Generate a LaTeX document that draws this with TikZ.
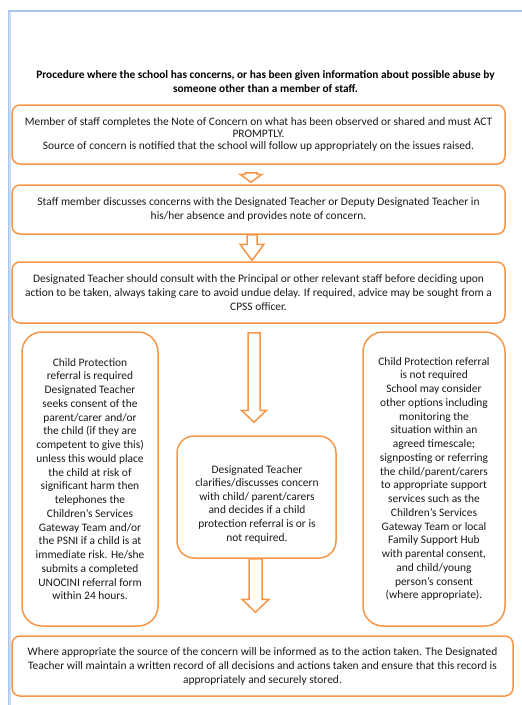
\documentclass[tikz,border=0pt]{standalone}
\usepackage{fontspec}
\setmainfont{Carlito}
\usetikzlibrary{calc}
\definecolor{boxor}{HTML}{F79646}
\definecolor{pageblue}{HTML}{A9C7EE}
\definecolor{pagebluel}{HTML}{C9DCF5}
\definecolor{txt}{HTML}{1A1A1A}
\tikzset{
  box/.style={draw=boxor, line width=1.5pt, rounded corners=8pt, fill=white,
    align=center, inner sep=0pt, text=txt, font=\fontsize{11.45}{14}\selectfont},
  sidebox/.style={box, rounded corners=20pt, font=\fontsize{11.45}{13.75}\selectfont},
  plaintext/.style={align=center, inner sep=0pt, text=txt, font=\fontsize{11.45}{13.6}\selectfont},
  arr/.style={draw=boxor, line width=1.5pt, fill=white, line join=miter},
  titletext/.style={align=center, inner sep=0pt, text=black, font=\fontsize{11.35}{14}\bfseries\selectfont}
}
\newcommand\blkarrow[5]{%
  \draw[arr] ($(#1)+(-#3,0)$) -- ($(#1)+(#3,0)$) -- ($(#2)+(#3,-#5)$) -- ($(#2)+(#4,-#5)$)
    -- (#2) -- ($(#2)+(-#4,-#5)$) -- ($(#2)+(-#3,-#5)$) -- cycle;}
\begin{document}
\begin{tikzpicture}[x=1pt,y=-1pt]
\useasboundingbox (0,0) rectangle (522,705);
% page border
\draw[pagebluel, line width=3pt] (9.5,11) -- (9.5,705);
\draw[pageblue, line width=1pt] (8.5,11) -- (8.5,705);
\draw[pageblue, line width=2pt] (8,11) -- (522,11);

\node[titletext] (title) at (265.5,82) {Procedure where the school has concerns, or has been given information about possible abuse by\\someone other than a member of staff.};

\node[box, minimum width=493pt, minimum height=59pt, font=\fontsize{11.45}{11.8}\selectfont] (b1) at (258.5,134.5)
 {Member of staff completes the Note of Concern on what has been observed or shared and must ACT\\PROMPTLY.\\Source of concern is notified that the school will follow up appropriately on the issues raised.};

\node[box, minimum width=493pt, minimum height=49pt] (b2) at (258.5,209.5)
 {Staff member discusses concerns with the Designated Teacher or Deputy Designated Teacher in\\his/her absence and provides note of concern.};

\node[box, minimum width=493pt, minimum height=61pt] (b3) at (258.5,292.5)
 {Designated Teacher should consult with the Principal or other relevant staff before deciding upon\\action to be taken, always taking care to avoid undue delay. If required, advice may be sought from a\\CPSS officer.};

\node[sidebox, minimum width=136pt, minimum height=294pt] (left) at (90,479)
 {Child Protection\\referral is required\\Designated Teacher\\seeks consent of the\\parent/carer and/or\\the child (if they are\\competent to give this)\\unless this would place\\the child at risk of\\significant harm then\\telephones the\\Children’s Services\\Gateway Team and/or\\the PSNI if a child is at\\immediate risk. He/she\\submits a completed\\UNOCINI referral form\\within 24 hours.};

\node[sidebox, minimum width=142pt, minimum height=294pt] (right) at (434,479)
 {Child Protection referral\\is not required\\School may consider\\other options including\\monitoring the\\situation within an\\agreed timescale;\\signposting or referring\\the child/parent/carers\\to appropriate support\\services such as the\\Children’s Services\\Gateway Team or local\\Family Support Hub\\with parental consent,\\and child/young\\person’s consent\\(where appropriate).};

\node[sidebox, rounded corners=17pt, minimum width=159pt, minimum height=122pt] (mid) at (256.5,497) {};
\node[plaintext] (midtext) at ($(mid.center)+(0.5,7)$)
 {Designated Teacher\\clarifies/discusses concern\\with child/ parent/carers\\and decides if a child\\protection referral is or is\\not required.};

\node[box, minimum width=501pt, minimum height=60pt] (bot) at (262.5,666)
 {Where appropriate the source of the concern will be informed as to the action taken. The Designated\\Teacher will maintain a written record of all decisions and actions taken and ensure that this record is\\appropriately and securely stored.};

% block arrows
\blkarrow{$(b1.south)+(-7.5,8)$}{$(b2.north)+(-7.5,-2)$}{6}{11}{8}
\blkarrow{$(b2.south)+(-6.5,0)$}{$(b3.north)+(-6.5,-1)$}{5}{12}{16}
\blkarrow{$(b3.south)+(-4.5,9)$}{$(mid.north)+(-2.5,-13)$}{6}{12.5}{12}
\blkarrow{$(mid.south)+(-1,0)$}{$(bot.north)+(-7,-23)$}{6.5}{13.5}{13}
\end{tikzpicture}
\end{document}
